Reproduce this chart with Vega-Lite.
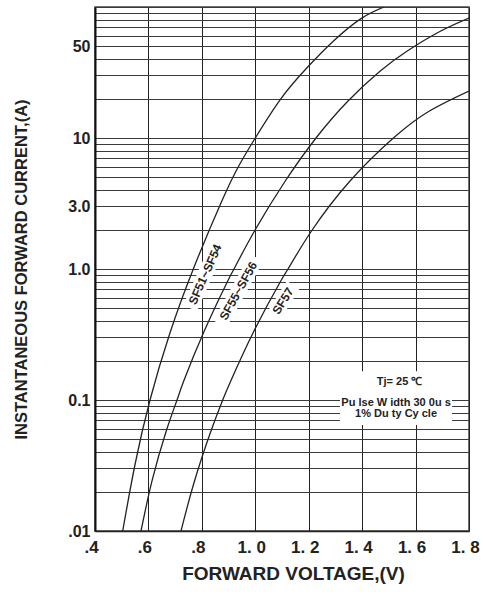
{
  "$schema": "https://vega.github.io/schema/vega-lite/v6.json",
  "width": 374,
  "height": 524,
  "autosize": {"type": "none"},
  "padding": {"left": 95, "top": 7, "right": 14, "bottom": 65},
  "background": "white",
  "config": {
    "view": {"stroke": "#444", "strokeWidth": 1.5},
    "font": "Liberation Sans, Arial, sans-serif"
  },
  "datasets": {
    "curves": [
      {"series": "SF51~SF54", "v": 0.5037, "i": 0.01},
      {"series": "SF51~SF54", "v": 0.5494, "i": 0.0319},
      {"series": "SF51~SF54", "v": 0.6059, "i": 0.1},
      {"series": "SF51~SF54", "v": 0.6793, "i": 0.319},
      {"series": "SF51~SF54", "v": 0.768, "i": 1.0},
      {"series": "SF51~SF54", "v": 0.8732, "i": 3.247},
      {"series": "SF51~SF54", "v": 0.938, "i": 6.11},
      {"series": "SF51~SF54", "v": 1.0, "i": 10},
      {"series": "SF51~SF54", "v": 1.0963, "i": 20},
      {"series": "SF51~SF54", "v": 1.1962, "i": 34.8},
      {"series": "SF51~SF54", "v": 1.2928, "i": 55.0},
      {"series": "SF51~SF54", "v": 1.3957, "i": 81.5},
      {"series": "SF51~SF54", "v": 1.4818, "i": 100},
      {"series": "SF55~SF56", "v": 0.5722, "i": 0.01},
      {"series": "SF55~SF56", "v": 0.6134, "i": 0.0241},
      {"series": "SF55~SF56", "v": 0.6667, "i": 0.058},
      {"series": "SF55~SF56", "v": 0.707, "i": 0.1},
      {"series": "SF55~SF56", "v": 0.7322, "i": 0.1396},
      {"series": "SF55~SF56", "v": 0.809, "i": 0.3363},
      {"series": "SF55~SF56", "v": 0.8969, "i": 0.81},
      {"series": "SF55~SF56", "v": 0.9203, "i": 1.0},
      {"series": "SF55~SF56", "v": 0.9971, "i": 1.95},
      {"series": "SF55~SF56", "v": 1.1122, "i": 4.696},
      {"series": "SF55~SF56", "v": 1.2273, "i": 10},
      {"series": "SF55~SF56", "v": 1.3471, "i": 19.16},
      {"series": "SF55~SF56", "v": 1.4678, "i": 32.47},
      {"series": "SF55~SF56", "v": 1.5689, "i": 46.15},
      {"series": "SF55~SF56", "v": 1.6943, "i": 65.6},
      {"series": "SF55~SF56", "v": 1.8, "i": 82.4},
      {"series": "SF57", "v": 0.7219, "i": 0.01},
      {"series": "SF57", "v": 0.7725, "i": 0.0241},
      {"series": "SF57", "v": 0.8342, "i": 0.058},
      {"series": "SF57", "v": 0.878, "i": 0.1},
      {"series": "SF57", "v": 0.9082, "i": 0.1396},
      {"series": "SF57", "v": 0.9952, "i": 0.3363},
      {"series": "SF57", "v": 1.0953, "i": 0.81},
      {"series": "SF57", "v": 1.1225, "i": 1.0},
      {"series": "SF57", "v": 1.2104, "i": 1.95},
      {"series": "SF57", "v": 1.3546, "i": 4.696},
      {"series": "SF57", "v": 1.517, "i": 10},
      {"series": "SF57", "v": 1.6518, "i": 16.07},
      {"series": "SF57", "v": 1.8, "i": 22.85}
    ],
    "labels": [
      {"label": "SF51~SF54", "v": 0.812, "i": 0.91},
      {"label": "SF55~SF56", "v": 0.9365, "i": 0.68},
      {"label": "SF57", "v": 1.104, "i": 0.57}
    ],
    "note": [
      {"text": "Tj= 25 ℃", "v": 1.54, "i": 0.138},
      {"text": "Pu lse W idth 30 0u s", "v": 1.527, "i": 0.0954},
      {"text": "1% Du ty Cy cle", "v": 1.527, "i": 0.0782}
    ],
    "box": [
      {"v1": 1.317, "v2": 1.7365, "i1": 0.0644, "i2": 0.166}
    ]
  },
  "layer": [
    {
      "data": {"name": "box"},
      "mark": {"type": "rect", "fill": "white", "stroke": null},
      "encoding": {
        "x": {"field": "v1", "type": "quantitative", "scale": {"domain": [0.4, 1.8], "nice": false, "zero": false},
          "axis": {
            "values": [0.4, 0.6, 0.8, 1.0, 1.2, 1.4, 1.6, 1.8],
            "grid": true, "gridColor": "#222", "gridWidth": 1,
            "ticks": false, "domain": true, "domainColor": "#222", "domainWidth": 1.5,
            "labelFontSize": 17, "labelFontWeight": "bold", "labelColor": "#222",
            "labelPadding": 8, "labelOffset": -4, "labelOverlap": false, "labelFlush": false,
            "labelExpr": "datum.value < 0.95 ? replace(format(datum.value, '.1f'), '0.', '.') : replace(format(datum.value, '.1f'), '.', '. ')",
            "title": "FORWARD VOLTAGE,(V)", "titleFontSize": 19, "titleFontWeight": "bold",
            "titleColor": "#222", "titlePadding": 9, "titleX": 198
          }},
        "x2": {"field": "v2"},
        "y": {"field": "i1", "type": "quantitative", "scale": {"type": "log", "domain": [0.01, 100], "nice": false},
          "axis": {
            "values": [0.01, 0.02, 0.03, 0.04, 0.05, 0.06, 0.07, 0.08, 0.09, 0.1, 0.2, 0.3, 0.4, 0.5, 0.6, 0.7, 0.8, 0.9, 1, 2, 3, 4, 5, 6, 7, 8, 9, 10, 20, 30, 40, 50, 60, 70, 80, 90, 100],
            "grid": true, "gridColor": "#3a3a3a", "gridWidth": 1,
            "ticks": false, "domain": true, "domainColor": "#111", "domainWidth": 2,
            "labelFontSize": 16, "labelFontWeight": "bold", "labelColor": "#222",
            "labelPadding": 5, "labelOverlap": false, "labelFlush": false,
            "labelExpr": "datum.value == 0.01 ? '.01' : datum.value == 0.1 ? '0.1' : datum.value == 1 ? '1.0' : datum.value == 3 ? '3.0' : datum.value == 10 ? '10' : datum.value == 50 ? '50' : ''",
            "title": "INSTANTANEOUS FORWARD CURRENT,(A)", "titleFontSize": 16.5, "titleFontWeight": "bold",
            "titleColor": "#222", "titlePadding": 38
          }},
        "y2": {"field": "i2"}
      }
    },
    {
      "data": {"name": "labels"},
      "transform": [{"filter": "datum.label == 'SF51~SF54'"}],
      "mark": {"type": "point", "shape": "M -37 -7.5 L 37 -7.5 L 37 7.5 L -37 7.5 Z", "size": 4, "angle": -66, "filled": true, "fill": "white", "opacity": 1, "strokeWidth": 0},
      "encoding": {"x": {"field": "v", "type": "quantitative"}, "y": {"field": "i", "type": "quantitative"}}
    },
    {
      "data": {"name": "labels"},
      "transform": [{"filter": "datum.label == 'SF55~SF56'"}],
      "mark": {"type": "point", "shape": "M -38 -7.5 L 38 -7.5 L 38 7.5 L -38 7.5 Z", "size": 4, "angle": -61, "filled": true, "fill": "white", "opacity": 1, "strokeWidth": 0},
      "encoding": {"x": {"field": "v", "type": "quantitative"}, "y": {"field": "i", "type": "quantitative"}}
    },
    {
      "data": {"name": "labels"},
      "transform": [{"filter": "datum.label == 'SF57'"}],
      "mark": {"type": "point", "shape": "M -19 -7.5 L 19 -7.5 L 19 7.5 L -19 7.5 Z", "size": 4, "angle": -58, "filled": true, "fill": "white", "opacity": 1, "strokeWidth": 0},
      "encoding": {"x": {"field": "v", "type": "quantitative"}, "y": {"field": "i", "type": "quantitative"}}
    },
    {
      "data": {"name": "curves"},
      "mark": {"type": "line", "color": "#222", "strokeWidth": 1.3, "interpolate": "natural", "clip": true},
      "encoding": {
        "x": {"field": "v", "type": "quantitative"},
        "y": {"field": "i", "type": "quantitative"},
        "detail": {"field": "series", "type": "nominal"}
      }
    },
    {
      "data": {"name": "labels"},
      "transform": [{"filter": "datum.label == 'SF51~SF54'"}],
      "mark": {"type": "text", "angle": -66, "fontSize": 12, "fontWeight": "bold", "color": "#222", "align": "center", "baseline": "middle"},
      "encoding": {"x": {"field": "v", "type": "quantitative"}, "y": {"field": "i", "type": "quantitative"}, "text": {"field": "label"}}
    },
    {
      "data": {"name": "labels"},
      "transform": [{"filter": "datum.label == 'SF55~SF56'"}],
      "mark": {"type": "text", "angle": -61, "fontSize": 12, "fontWeight": "bold", "color": "#222", "align": "center", "baseline": "middle"},
      "encoding": {"x": {"field": "v", "type": "quantitative"}, "y": {"field": "i", "type": "quantitative"}, "text": {"field": "label"}}
    },
    {
      "data": {"name": "labels"},
      "transform": [{"filter": "datum.label == 'SF57'"}],
      "mark": {"type": "text", "angle": -58, "fontSize": 12, "fontWeight": "bold", "color": "#222", "align": "center", "baseline": "middle"},
      "encoding": {"x": {"field": "v", "type": "quantitative"}, "y": {"field": "i", "type": "quantitative"}, "text": {"field": "label"}}
    },
    {
      "data": {"name": "note"},
      "mark": {"type": "text", "fontSize": 11, "fontWeight": "bold", "color": "#222", "align": "center", "baseline": "middle"},
      "encoding": {"x": {"field": "v", "type": "quantitative"}, "y": {"field": "i", "type": "quantitative"}, "text": {"field": "text"}}
    }
  ]
}
